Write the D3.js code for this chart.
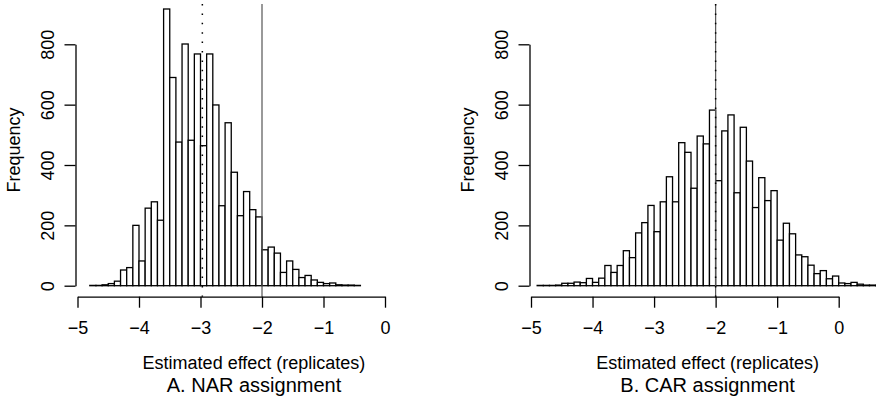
<!DOCTYPE html>
<html>
<head>
<meta charset="utf-8">
<script src="https://cdn.jsdelivr.net/npm/d3@7"></script>
<style>
  html, body { margin: 0; padding: 0; background: #fff; }
  svg { display: block; }
  text { font-family: "Liberation Sans", Arial, Helvetica, sans-serif; fill: #000; }
</style>
</head>
<body>
<svg id="chart" width="876" height="401"></svg>
<script>
// ---------- DATA ----------
// Panel A (NAR assignment): lower edges of bins (width 0.1) and counts
const binStartsA = [-4.8,-4.7,-4.6,-4.5,-4.4,-4.3,-4.2,-4.1,-4.0,-3.9,-3.8,-3.7,-3.6,-3.5,-3.4,-3.3,-3.2,-3.1,-3.0,-2.9,-2.8,-2.7,-2.6,-2.5,-2.4,-2.3,-2.2,-2.1,-2.0,-1.9,-1.8,-1.7,-1.6,-1.5,-1.4,-1.3,-1.2,-1.1,-1.0,-0.9,-0.8,-0.7,-0.6,-0.5];
const countsA    = [1,1,3,7,15,52,60,200,82,257,278,217,917,690,476,801,482,768,464,768,599,265,540,376,232,312,252,228,119,128,108,44,82,54,27,34,19,11,7,9,3,2,2,1];

// Panel B (CAR assignment)
const binStartsB = [-4.9,-4.8,-4.7,-4.6,-4.5,-4.4,-4.3,-4.2,-4.1,-4.0,-3.9,-3.8,-3.7,-3.6,-3.5,-3.4,-3.3,-3.2,-3.1,-3.0,-2.9,-2.8,-2.7,-2.6,-2.5,-2.4,-2.3,-2.2,-2.1,-2.0,-1.9,-1.8,-1.7,-1.6,-1.5,-1.4,-1.3,-1.2,-1.1,-1.0,-0.9,-0.8,-0.7,-0.6,-0.5,-0.4,-0.3,-0.2,-0.1,0.0,0.1,0.2,0.3,0.4,0.5,0.6];
const countsB    = [1,1,1,2,8,8,12,10,24,11,25,67,44,67,116,93,175,209,266,179,278,361,278,474,442,323,496,470,582,348,513,566,308,525,413,259,358,282,315,151,207,172,102,96,68,40,50,23,32,9,7,11,5,2,2,1];

const binWidth = 0.1;
const xTicks = [-5,-4,-3,-2,-1,0];
const yTicks = [0,200,400,600,800];

// reference lines
const trueEffect = -2;      // solid grey line
const meanA = -2.97;        // dotted line, panel A
const meanB = -2.0;         // dotted line, panel B

const xLabel = "Estimated effect (replicates)";
const yLabel = "Frequency";
const titles = ["A. NAR assignment", "B. CAR assignment"];

// ---------- LAYOUT ----------
const svg = d3.select("#chart");
const FS = 18;

const panels = [
  { starts: binStartsA, counts: countsA, mean: meanA, title: titles[0], x0: 77.5, x1: 385, yAxisX: 75.5 },
  { starts: binStartsB, counts: countsB, mean: meanB, title: titles[1], x0: 531, x1: 838.7, yAxisX: 529.5 }
];

const yBase = 285.7, yTop800 = 44.3;
const xAxisY = 296.7;
const plotTop = 4;

panels.forEach(p => {
  const g = svg.append("g");
  const x = d3.scaleLinear().domain([-5, 0]).range([p.x0, p.x1]);
  const y = d3.scaleLinear().domain([0, 800]).range([yBase, yTop800]);

  // bars
  g.append("g").selectAll("rect")
    .data(p.starts.map((s, i) => ({ s, c: p.counts[i] })))
    .join("rect")
    .attr("x", d => x(d.s))
    .attr("width", d => x(d.s + binWidth) - x(d.s))
    .attr("y", d => y(d.c))
    .attr("height", d => y(0) - y(d.c))
    .attr("fill", "#fff")
    .attr("stroke", "#000")
    .attr("stroke-width", 1.3);

  // reference lines
  g.append("line")
    .attr("x1", x(trueEffect)).attr("x2", x(trueEffect))
    .attr("y1", plotTop).attr("y2", xAxisY)
    .attr("stroke", "#555").attr("stroke-width", 1.2);
  g.append("line")
    .attr("x1", x(p.mean)).attr("x2", x(p.mean))
    .attr("y1", plotTop).attr("y2", xAxisY)
    .attr("stroke", "#000").attr("stroke-width", 1.5)
    .attr("stroke-dasharray", "1.5,7.9");

  // x axis
  const xa = g.append("g")
    .attr("transform", `translate(0,${xAxisY})`)
    .call(d3.axisBottom(x).tickValues(xTicks).tickSize(11).tickSizeOuter(0).tickPadding(14)
      .tickFormat(d => d3.format("d")(d).replace("-", "\u2212")));
  xa.select(".domain").attr("stroke", "#000").attr("stroke-width", 1.3);
  xa.selectAll(".tick line").attr("stroke", "#000").attr("stroke-width", 1.3);
  xa.selectAll("text").attr("font-size", FS).style("font-family", "Liberation Sans, Arial, sans-serif");

  // y axis
  const ya = g.append("g")
    .attr("transform", `translate(${p.yAxisX},0)`)
    .call(d3.axisLeft(y).tickValues(yTicks).tickSize(11).tickSizeOuter(0));
  ya.select(".domain").attr("stroke", "#000").attr("stroke-width", 1.3);
  ya.selectAll(".tick line").attr("stroke", "#000").attr("stroke-width", 1.3);
  ya.selectAll("text")
    .attr("font-size", FS)
    .style("font-family", "Liberation Sans, Arial, sans-serif")
    .attr("text-anchor", "middle")
    .attr("x", 0).attr("y", -21.6).attr("dy", null)
    .attr("transform", "rotate(-90)");

  // y label
  g.append("text")
    .attr("transform", `translate(${p.yAxisX - 56},150) rotate(-90)`)
    .attr("text-anchor", "middle")
    .attr("font-size", FS)
    .text(yLabel);

  // x label and title
  const cx = x(-2.13);
  g.append("text").attr("x", cx).attr("y", 369).attr("text-anchor", "middle")
    .attr("font-size", FS).text(xLabel);
  g.append("text").attr("x", cx).attr("y", 392).attr("text-anchor", "middle")
    .attr("font-size", 20).text(p.title);
});
</script>
</body>
</html>
